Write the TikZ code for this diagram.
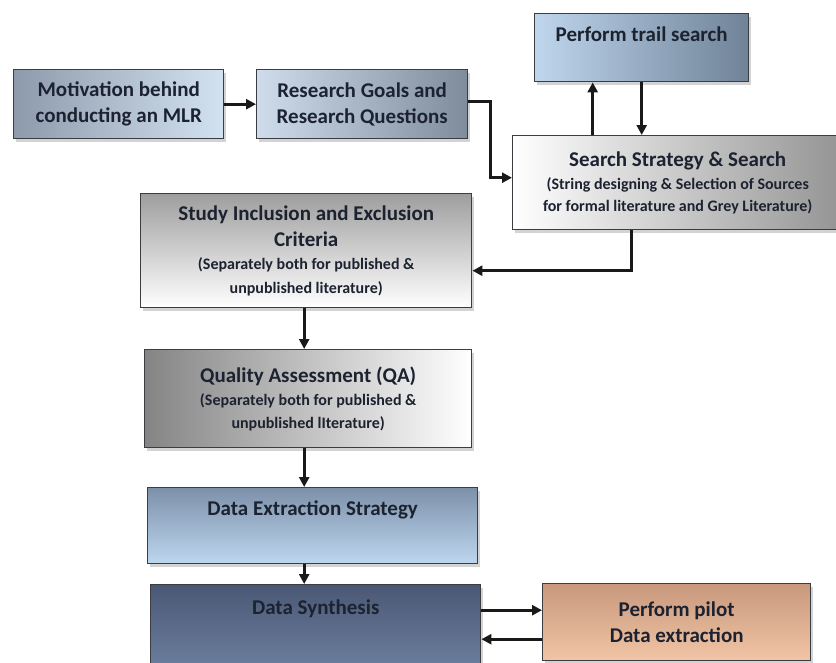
\documentclass[tikz,border=0pt]{standalone}
\usepackage{fontspec}
\setmainfont{Carlito}
\usetikzlibrary{arrows.meta,shadows}

\definecolor{txt}{HTML}{1C2230}
\definecolor{frame}{HTML}{3A3D42}
% fills
\definecolor{motL}{HTML}{8D9AAB}
\definecolor{motR}{HTML}{D3E2F1}
\definecolor{goalsL}{HTML}{CFDCEB}
\definecolor{goalsR}{HTML}{7F8C9C}
\definecolor{trailL}{HTML}{BFD6EC}
\definecolor{trailR}{HTML}{6F8298}
\definecolor{extrT}{HTML}{7D90AA}
\definecolor{extrB}{HTML}{BDD7EF}
\definecolor{synT}{HTML}{4A5874}
\definecolor{synB}{HTML}{7286A6}
\definecolor{pilT}{HTML}{C8987C}
\definecolor{pilB}{HTML}{F1C5A6}

\begin{document}
\begin{tikzpicture}[x=1pt, y=-1pt, >={Triangle[length=10pt,width=10pt]},
  box/.style={draw=frame, line width=1.4pt, anchor=north west, align=center,
    text=txt, font=\bfseries\fontsize{21}{26}\selectfont,
    drop shadow={shadow xshift=2.5pt, shadow yshift=-3.5pt, opacity=0.35}},
  topbox/.style={box, inner ysep=0pt},
  arr/.style={->, line width=2.6pt, black!90}]

  % page
  \useasboundingbox (0,0) rectangle (836,662);

  % top row
  \node[box, left color=motL, right color=motR,
    minimum width=210pt, minimum height=69pt] (mot) at (13,69)
    {Motivation behind\\conducting an MLR};
  \node[box, left color=goalsL, right color=goalsR,
    minimum width=211pt, minimum height=69pt] (goals) at (256,69)
    {Research Goals and\\Research Questions};
  \node[topbox, left color=trailL, right color=trailR,
    minimum width=214pt, text height=28pt, text depth=40pt] (trail) at (534,13)
    {Perform trail search};

  % search strategy
  \node[box, left color=white, right color=black!42,
    minimum width=330pt, minimum height=94pt] (search) at (512,135)
    {Search Strategy \& Search\\[-3pt]
     {\fontsize{16}{20}\selectfont (String designing \& Selection of Sources}\\[-4pt]
     {\fontsize{16}{20}\selectfont for formal literature and Grey Literature)}};

  % left column
  \node[box, top color=black!38, bottom color=white,
    minimum width=331pt, minimum height=114pt] (study) at (140,193)
    {Study Inclusion and Exclusion\\Criteria\\[-3pt]
     {\fontsize{16}{20}\selectfont (Separately both for published \&}\\[-2pt]
     {\fontsize{16}{20}\selectfont unpublished literature)}};
  \node[box, left color=black!48, right color=white,
    minimum width=327pt, minimum height=98pt] (qa) at (144,349)
    {Quality Assessment (QA)\\[-3pt]
     {\fontsize{16}{20}\selectfont (Separately both for published \&}\\[-3pt]
     {\fontsize{16}{20}\selectfont unpublished lIterature)}};
  \node[topbox, top color=extrT, bottom color=extrB,
    minimum width=330pt, text height=28pt, text depth=48pt] (extract) at (147,487)
    {Data Extraction Strategy};
  \node[topbox, top color=synT, bottom color=synB,
    minimum width=330pt, text height=30pt, text depth=70pt] (synth) at (150,584)
    {Data Synthesis};

  % pilot
  \node[box, top color=pilT, bottom color=pilB,
    minimum width=268pt, minimum height=77pt] (pilot) at (542,583)
    {Perform pilot\\Data extraction};

  % connectors
  \draw[arr] (mot) -- (goals);
  \draw[arr] ([yshift=3pt]goals.east) -- ++(22,0) |- ([yshift=5pt]search.west);
  \draw[arr] ([xshift=-49pt]trail.south |- search.north) -- ([xshift=-49pt]trail.south);
  \draw[arr] (trail.south) -- (trail.south |- search.north);
  \draw[arr] ([xshift=-46pt]search.south) |- ([yshift=-20pt]study.east);
  \draw[arr] ([xshift=-2pt]study.south) -- ([xshift=-2pt]study.south |- qa.north);
  \draw[arr] ([xshift=-4pt]qa.south) -- ([xshift=-4pt]qa.south |- extract.north);
  \draw[arr] ([xshift=-4pt]qa.south |- extract.south) -- ([xshift=-4pt]qa.south |- synth.north);
  \draw[arr] ([yshift=12pt]pilot.west -| synth.east) -- ([yshift=12pt]pilot.west);
  \draw[arr] ([yshift=-17pt]pilot.west) -- ([yshift=-17pt]pilot.west -| synth.east);
\end{tikzpicture}
\end{document}
